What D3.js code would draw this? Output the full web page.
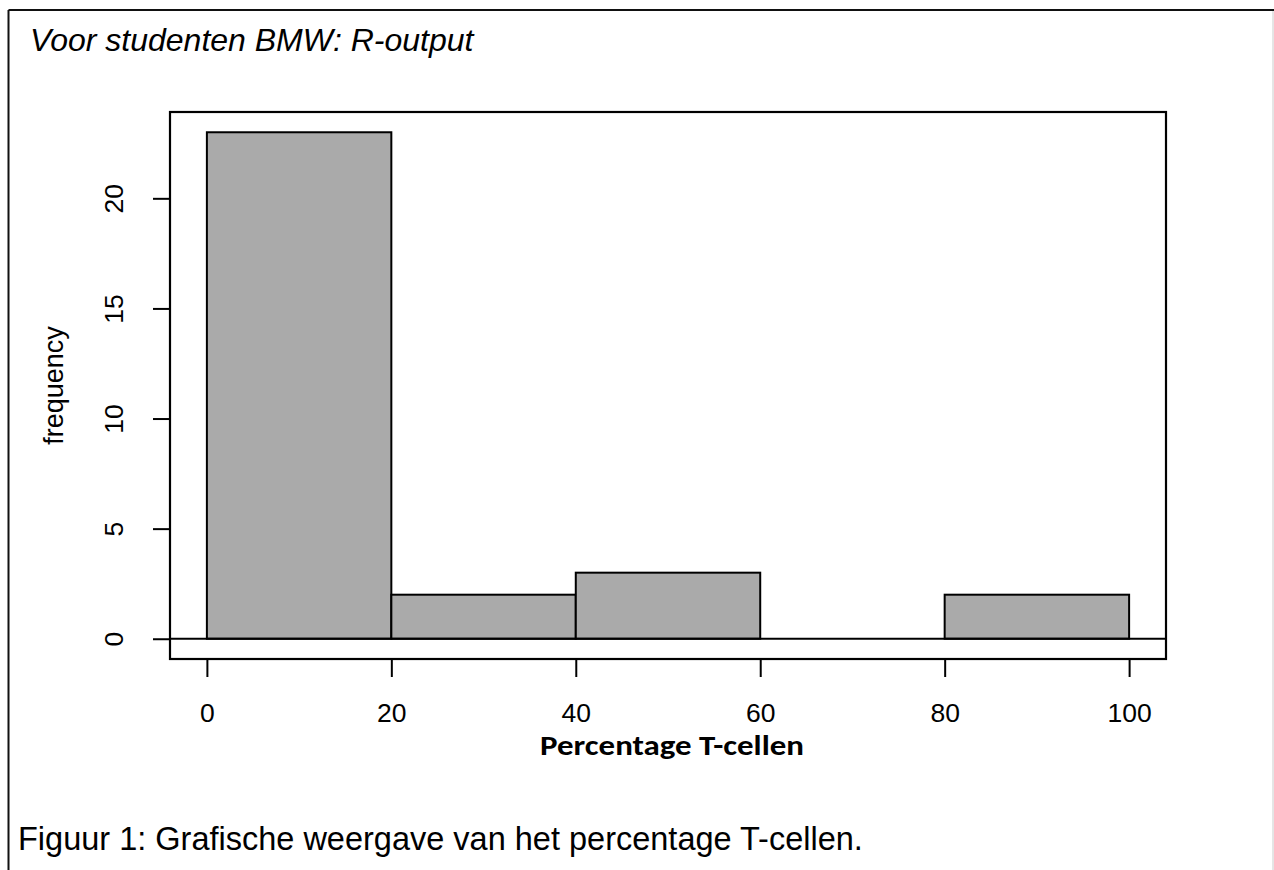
<!DOCTYPE html>
<html>
<head>
<meta charset="utf-8">
<script src="https://cdn.jsdelivr.net/npm/d3@7"></script>
<style>
  body { margin: 0; background: #fff; }
  svg { display: block; }
</style>
</head>
<body>
<div id="chart"></div>
<script>
// histogram data
var binEdges = [0, 20, 40, 60, 80, 100];
var counts = [23, 2, 3, 0, 2];
var xTicks = [0, 20, 40, 60, 80, 100];
var yTicks = [0, 5, 10, 15, 20];

var titleText = "Voor studenten BMW: R-output";
var captionText = "Figuur 1: Grafische weergave van het percentage T-cellen.";
var xLabel = "Percentage T-cellen";
var yLabel = "frequency";

var svgWidth = 1274;
var svgHeight = 870;

// plot box (R's usr region incl. 4% extension)
var box = { left: 170, right: 1166, top: 112, bottom: 659 };

var svg = d3.select("#chart")
  .append("svg")
  .attr("width", svgWidth)
  .attr("height", svgHeight);

// outer document frame
svg.append("line")
  .attr("x1", 8.5).attr("y1", 10)
  .attr("x2", svgWidth).attr("y2", 10)
  .attr("stroke", "#111").attr("stroke-width", 2);
svg.append("line")
  .attr("x1", 8.5).attr("y1", 10)
  .attr("x2", 8.5).attr("y2", svgHeight)
  .attr("stroke", "#111").attr("stroke-width", 2);
svg.append("line")
  .attr("x1", 1273).attr("y1", 11)
  .attr("x2", 1273).attr("y2", svgHeight)
  .attr("stroke", "#ccc").attr("stroke-width", 1);

svg.append("text")
  .attr("x", 30)
  .attr("y", 51)
  .attr("font-family", "Liberation Sans, Arial, sans-serif")
  .attr("font-style", "italic")
  .attr("font-size", "32px")
  .attr("fill", "#000")
  .text(titleText);

svg.append("text")
  .attr("x", 18)
  .attr("y", 850)
  .attr("font-family", "Liberation Sans, Arial, sans-serif")
  .attr("font-size", "32.5px")
  .attr("fill", "#000")
  .text(captionText);

var xScale = d3.scaleLinear()
  .domain([-4, 104])
  .range([box.left, box.right]);

var yScale = d3.scaleLinear()
  .domain([-0.92, 23.92])
  .range([box.bottom, box.top]);

var bins = counts.map(function(c, i) {
  return { x0: binEdges[i], x1: binEdges[i + 1], count: c };
});

var chartGroup = svg.append("g");

// bars
chartGroup.selectAll("rect.bar")
  .data(bins)
  .enter()
  .append("rect")
  .attr("class", "bar")
  .attr("x", d => xScale(d.x0))
  .attr("y", d => yScale(d.count))
  .attr("width", d => xScale(d.x1) - xScale(d.x0))
  .attr("height", d => yScale(0) - yScale(d.count))
  .attr("fill", "#aaaaaa")
  .attr("stroke", "#000")
  .attr("stroke-width", 2);

// zero line across the plot region
chartGroup.append("line")
  .attr("x1", box.left).attr("x2", box.right)
  .attr("y1", yScale(0)).attr("y2", yScale(0))
  .attr("stroke", "#000")
  .attr("stroke-width", 2);

// plot box
chartGroup.append("rect")
  .attr("x", box.left)
  .attr("y", box.top)
  .attr("width", box.right - box.left)
  .attr("height", box.bottom - box.top)
  .attr("fill", "none")
  .attr("stroke", "#000")
  .attr("stroke-width", 2.2);

// x axis
var xAxis = d3.axisBottom(xScale)
  .tickValues(xTicks)
  .tickSize(18)
  .tickFormat(d3.format("d"));

var xAxisG = chartGroup.append("g")
  .attr("transform", `translate(0, ${box.bottom})`)
  .call(xAxis);
xAxisG.select(".domain").remove();
xAxisG.selectAll(".tick line").attr("stroke", "#000").attr("stroke-width", 2);
xAxisG.selectAll(".tick text")
  .attr("y", 63)
  .attr("dy", 0)
  .attr("font-family", "Liberation Sans, Arial, sans-serif")
  .attr("font-size", "26.5px")
  .attr("fill", "#000");

// y axis
var yAxis = d3.axisLeft(yScale)
  .tickValues(yTicks)
  .tickSize(17)
  .tickFormat(d3.format("d"));

var yAxisG = chartGroup.append("g")
  .attr("transform", `translate(${box.left}, 0)`)
  .call(yAxis);
yAxisG.select(".domain").remove();
yAxisG.selectAll(".tick line").attr("stroke", "#000").attr("stroke-width", 2);
yAxisG.selectAll(".tick text")
  .attr("transform", "rotate(-90)")
  .attr("x", 0)
  .attr("y", -47)
  .attr("dy", 0)
  .attr("text-anchor", "middle")
  .attr("font-family", "Liberation Sans, Arial, sans-serif")
  .attr("font-size", "26.5px")
  .attr("fill", "#000");

// axis titles
svg.append("text")
  .attr("x", 672)
  .attr("y", 755)
  .attr("text-anchor", "middle")
  .attr("font-family", "Carlito, Lato, sans-serif")
  .attr("font-weight", "bold")
  .attr("font-size", "29px")
  .attr("textLength", 264)
  .attr("lengthAdjust", "spacingAndGlyphs")
  .attr("fill", "#000")
  .text(xLabel);

svg.append("g")
  .attr("transform", `translate(63, ${(box.top + box.bottom) / 2})`)
  .append("text")
  .attr("transform", "rotate(-90)")
  .attr("text-anchor", "middle")
  .attr("font-family", "Liberation Sans, Arial, sans-serif")
  .attr("font-size", "27px")
  .attr("fill", "#000")
  .text(yLabel);
</script>
</body>
</html>
